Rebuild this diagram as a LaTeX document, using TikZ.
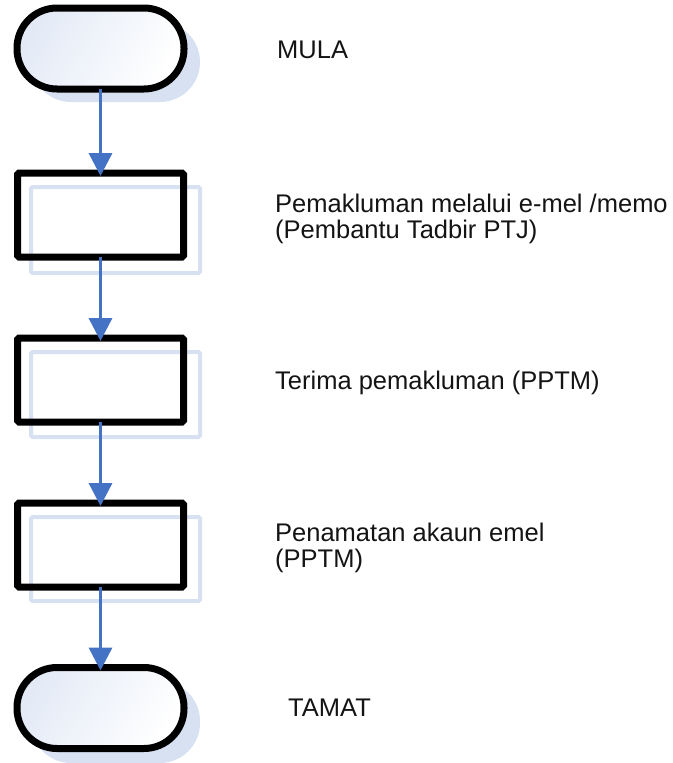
\documentclass[tikz,border=0pt]{standalone}
\usepackage{fontspec}
\setmainfont{Liberation Sans}
\usetikzlibrary{arrows.meta}
\definecolor{arrowblue}{HTML}{4472C4}
\definecolor{shadowblue}{HTML}{D7E1F2}
\definecolor{fillblue}{HTML}{E3EAF6}
\begin{document}
\begin{tikzpicture}[x=1pt,y=-1pt,
  terminal/.style={draw=black, line width=7pt, rounded corners=40pt,
    minimum width=167pt, minimum height=81pt, inner sep=0pt, outer sep=0pt,
    left color=fillblue, right color=white, shading angle=60},
  procbox/.style={draw=black, line width=7pt, rounded corners=1.5pt,
    minimum width=166pt, minimum height=84pt, inner sep=0pt, outer sep=0pt},
  termshadow/.style={fill=shadowblue, rounded corners=40pt},
  boxshadow/.style={draw=shadowblue, line width=4pt, rounded corners=1.5pt},
  flow/.style={draw=arrowblue, line width=3.5pt,
    -{Triangle[width=23pt,length=23pt]}, shorten >=-3pt},
  label/.style={anchor=base west, inner sep=0pt, align=left,
    font=\fontsize{25.5}{26}\selectfont, text=black!92}
]
\useasboundingbox (0,0) rectangle (672,763);
% shadows
\fill[termshadow] (31,22) rectangle (200,102);
\draw[boxshadow] (31,187) rectangle (200,273);
\draw[boxshadow] (31,352) rectangle (200,437);
\draw[boxshadow] (31,517) rectangle (200,601);
\fill[termshadow] (31,681) rectangle (200,763);
% shapes
\node[terminal] (start) at (100.5,48.5) {};
\node[procbox] (p1) at (100.5,215) {};
\node[procbox] (p2) at (100.5,380) {};
\node[procbox] (p3) at (100.5,545) {};
\node[terminal] (end) at (100.5,708) {};
% connectors
\draw[flow] (start.south) -- (p1.north);
\draw[flow] (p1.south) -- (p2.north);
\draw[flow] (p2.south) -- (p3.north);
\draw[flow] (p3.south) -- (end.north);
% labels
\node[label] (t1) at (277,58) {MULA};
\node[label] (t2) at (275,238) {Pemakluman melalui e-mel /memo\\(Pembantu Tadbir PTJ)};
\node[label] (t3) at (275,389) {Terima pemakluman (PPTM)};
\node[label] (t4) at (275,567) {Penamatan akaun emel\\(PPTM)};
\node[label] (t5) at (288,716) {TAMAT};
\end{tikzpicture}
\end{document}
